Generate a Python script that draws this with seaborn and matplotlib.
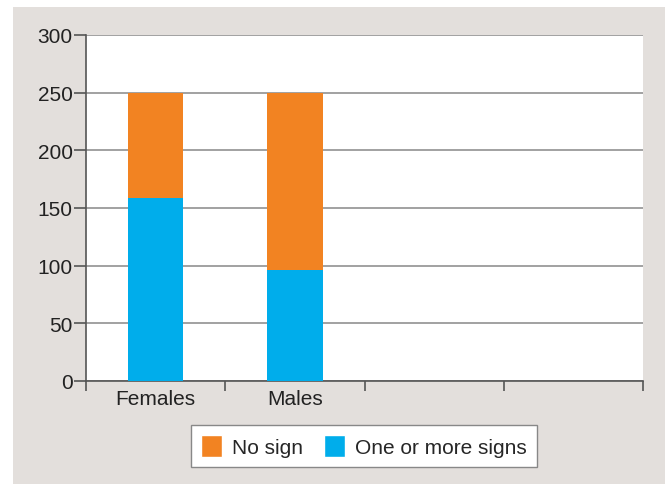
import numpy as np
import pandas as pd
import matplotlib
matplotlib.use("Agg")
import matplotlib.pyplot as plt
import seaborn as sns
from matplotlib.patches import Rectangle, Patch

# data
categories = ["Females", "Males"]
empty_slots = ["", " "]
one_or_more = [159, 96]
no_sign = [91, 154]
y_ticks = [0, 50, 100, 150, 200, 250, 300]

orange = "#f28322"
blue = "#00adeb"
bg = "#e3dfdc"

sns.set_style("white")
plt.rcParams['font.family'] = ['Liberation Sans', 'DejaVu Sans']

df = pd.DataFrame({"group": categories,
                   "signs": one_or_more,
                   "total": np.array(one_or_more) + np.array(no_sign)})
order = categories + empty_slots

fig = plt.figure(figsize=(6.67, 4.85), dpi=100, facecolor="white")
fig.patches.append(Rectangle((13/667, 0), 652/667, 1 - 8/485, transform=fig.transFigure,
                             facecolor=bg, edgecolor="none", zorder=-10))
ax = fig.add_axes([86/667, 1 - 382/485, (643-86)/667, (382-36)/485])
ax.set_facecolor("white")

sns.barplot(data=df, x="group", y="total", order=order, color=orange,
            width=0.4, saturation=1, linewidth=0, ax=ax, zorder=3)
sns.barplot(data=df, x="group", y="signs", order=order, color=blue,
            width=0.4, saturation=1, linewidth=0, ax=ax, zorder=4)

ax.set_xlim(-0.5, len(order) - 0.5)
ax.set_ylim(0, 300)
ax.set_yticks(y_ticks)
ax.yaxis.grid(True, color="#9a9a9a", linewidth=1.3, zorder=1)
ax.set_axisbelow(True)
ax.set_xlabel("")
ax.set_ylabel("")

ax.set_xticks(range(len(order)))
ax.set_xticklabels(order)
ax.set_xticks(np.arange(-0.5, len(order)), minor=True)
ax.tick_params(axis="x", which="major", length=0, pad=6, labelsize=15, colors="#222222")
ax.tick_params(axis="x", which="minor", length=7, width=1.2, color="#555555", direction="out")
ax.tick_params(axis="y", length=8.5, width=1.2, color="#555555", direction="out",
               labelsize=15, labelcolor="#222222", pad=1)
ax.tick_params(bottom=True, left=True, which="both")

for s in ["top", "right"]:
    ax.spines[s].set_visible(False)
for s in ["left", "bottom"]:
    ax.spines[s].set_color("#555555")
    ax.spines[s].set_linewidth(1.2)

handles = [Patch(facecolor=orange, label="No sign"),
           Patch(facecolor=blue, label="One or more signs")]
leg = fig.legend(handles=handles, loc="center", bbox_to_anchor=(364/667, 1 - 447/485),
                 ncol=2, fontsize=15, frameon=True, fancybox=False,
                 handlelength=1.0, handleheight=1.25, handletextpad=0.5,
                 columnspacing=1.0, borderpad=0.5, borderaxespad=0)
leg.get_frame().set_edgecolor("#888888")
leg.get_frame().set_linewidth(1.0)
leg.get_frame().set_alpha(1)

fig.savefig("out.png", dpi=100, facecolor="white")
